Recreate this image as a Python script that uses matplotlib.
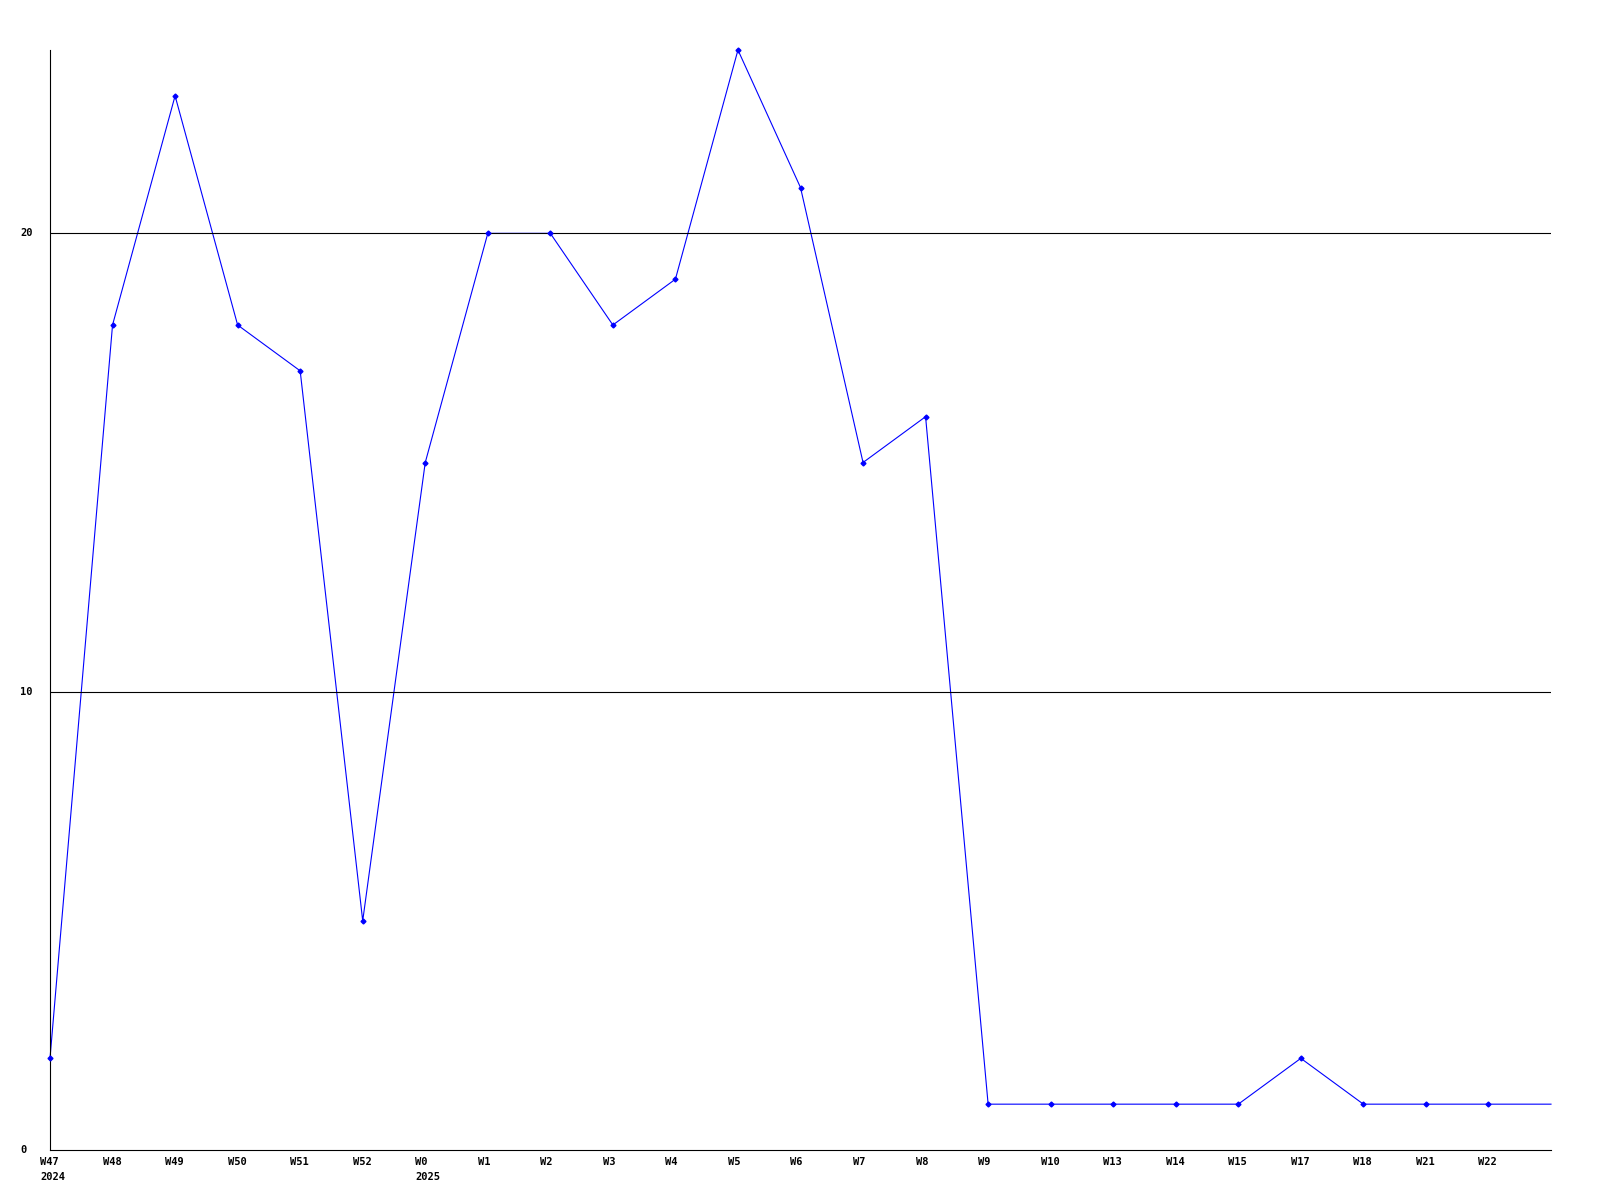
import matplotlib
matplotlib.use("Agg")
import matplotlib.pyplot as plt
from matplotlib.transforms import blended_transform_factory

weeks = ["W47", "W48", "W49", "W50", "W51", "W52", "W0", "W1", "W2", "W3", "W4", "W5",
         "W6", "W7", "W8", "W9", "W10", "W13", "W14", "W15", "W17", "W18", "W21", "W22", ""]
years = ["2024", "", "", "", "", "", "2025", "", "", "", "", "",
         "", "", "", "", "", "", "", "", "", "", "", "", ""]
values = [2, 18, 23, 18, 17, 5, 15, 20, 20, 18, 19, 24,
          21, 15, 16, 1, 1, 1, 1, 1, 2, 1, 1, 1, 1]
yticks = [0, 10, 20]

DPI = 100
fig = plt.figure(figsize=(16, 12), dpi=DPI)
ax = fig.add_axes([50/1600, 50/1200, 1501/1600, 1100/1200])

xs = list(range(len(values)))
ax.plot(xs, values, color="#0000ff", lw=0.8, clip_on=False, zorder=1)
ax.plot(xs[:-1], values[:-1], color="#0000ff", lw=0, marker="D", markersize=2.5,
        clip_on=False, zorder=3)

ax.set_xlim(0, len(values) - 1)
ax.set_ylim(0, 24)

for y in yticks[1:]:
    ax.axhline(y, color="black", lw=0.8, zorder=2)

for s in ["top", "right"]:
    ax.spines[s].set_visible(False)
for s in ["left", "bottom"]:
    ax.spines[s].set_linewidth(0.8)
    ax.spines[s].set_color("black")

ax.set_xticks([])
ax.set_yticks([])

font = dict(family="DejaVu Sans Mono", weight="bold", size=7.5, color="black")
trans = blended_transform_factory(ax.transData, ax.transAxes)
for i, (w, yr) in enumerate(zip(weeks, years)):
    if w:
        ax.annotate(w, xy=(i, 0), xycoords=trans, xytext=(-7.2, -5),
                    textcoords="offset points", ha="left", va="top", **font)
    if yr:
        ax.annotate(yr, xy=(i, 0), xycoords=trans, xytext=(-7.2, -15.5),
                    textcoords="offset points", ha="left", va="top", **font)

ytrans = blended_transform_factory(fig.transFigure, ax.transData)
for y in yticks:
    ax.text(20/1600, y, str(y), transform=ytrans, ha="left", va="center", **font)

fig.savefig("out.png", dpi=DPI, facecolor="white")
